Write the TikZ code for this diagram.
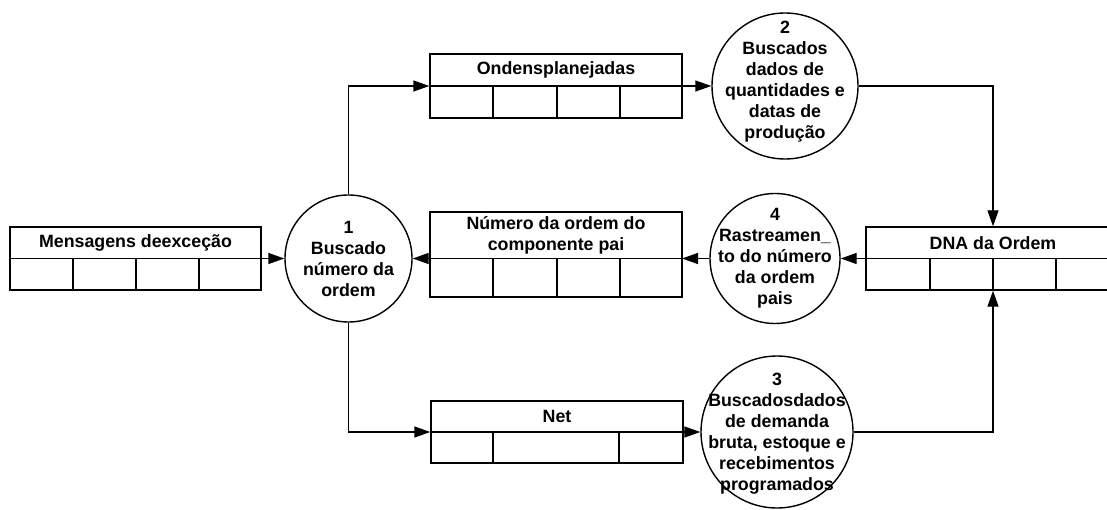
\documentclass[tikz,border=0pt]{standalone}
\usepackage{fontspec}
\setmainfont{Liberation Sans}
\usetikzlibrary{arrows.meta,calc}
\begin{document}
\begin{tikzpicture}[x=1pt,y=-1pt,
  line width=1.4pt,
  every node/.style={font=\bfseries\fontsize{17.8}{21}\selectfont},
  store/.style={draw, rectangle, inner sep=0pt},
  proc/.style={draw, circle, inner sep=0pt},
  flow/.style={-{Triangle[length=16pt,width=11pt]}},
  title/.style={align=center, inner sep=0pt}
]
\useasboundingbox (0,0) rectangle (1107,510);
\clip (0,0) rectangle (1107,510);

% ---- stores ----
\node[store, minimum width=251pt, minimum height=63pt] (msg) at (135.5,258.5) {};
\draw (msg.west) -- (msg.east);
\foreach \x in {73,136,199} \draw (\x,258.5) -- (\x,290);
\node[title] (msgT) at (135.5,243) {Mensagens deexceção};

\node[store, minimum width=252pt, minimum height=64pt] (ond) at (556,86) {};
\draw (ond.west) -- (ond.east);
\foreach \x in {493,557,620} \draw (\x,86) -- (\x,118);
\node[title] (ondT) at (556,70) {Ondensplanejadas};

\node[store, minimum width=252pt, minimum height=85pt] (num) at (556,254.5) {};
\coordinate (numL) at (430,258.5);
\coordinate (numR) at (682,258.5);
\draw (numL) -- (numR);
\foreach \x in {493,557,620} \draw (\x,258.5) -- (\x,297);
\node[title] (numT) at (556,235.5) {Número da ordem do\\componente pai};

\node[store, minimum width=252pt, minimum height=62pt] (net) at (557,432) {};
\draw (net.west) -- (net.east);
\foreach \x in {493,619} \draw (\x,432) -- (\x,463);
\node[title] (netT) at (557,416) {Net};

\node[store, minimum width=254pt, minimum height=63pt] (dna) at (993,258.5) {};
\draw (dna.west) -- (dna.east);
\foreach \x in {930,993,1056} \draw (\x,258.5) -- (\x,290);
\node[title] (dnaT) at (993,243) {DNA da Ordem};

% ---- processes ----
\node[proc, minimum size=127pt] (c1) at (348.5,258.5) {};
\node[title] (c1T) at (348.5,258.5) {1\\Buscado\\número da\\ordem};
\node[proc, minimum size=146pt] (c2) at (785,86) {};
\node[title] (c2T) at (785,82) {2\\Buscados\\dados de\\quantidades e\\datas de\\produção};
\node[proc, minimum size=130pt] (c4) at (775,258.5) {};
\node[title] (c4T) at (775,258.5) {4\\Rastreamen\_\\to do número\\da ordem\\pais};
\node[proc, minimum size=152pt] (c3) at (777,432) {};
\node[title] (c3T) at (777,434) {3\\Buscadosdados\\de demanda\\bruta, estoque e\\recebimentos\\programados};

% ---- flows ----
\draw[flow] (msg.east) -- (c1.west);
\draw[flow] (c1.north) |- (ond.west);
\draw[flow] (c1.south) |- (net.west);
\draw[flow] (ond.east) -- (c2.west);
\draw[flow] (c2.east) -| (dna.north);
\draw[flow] (dna.west) -- (c4.east);
\draw[flow] (c4.west) -- (numR);
\draw[flow] (numL) -- (c1.east);
\draw[flow] (net.east) -- (c3.west);
\draw[flow] (c3.east) -| (dna.south);
\end{tikzpicture}
\end{document}
